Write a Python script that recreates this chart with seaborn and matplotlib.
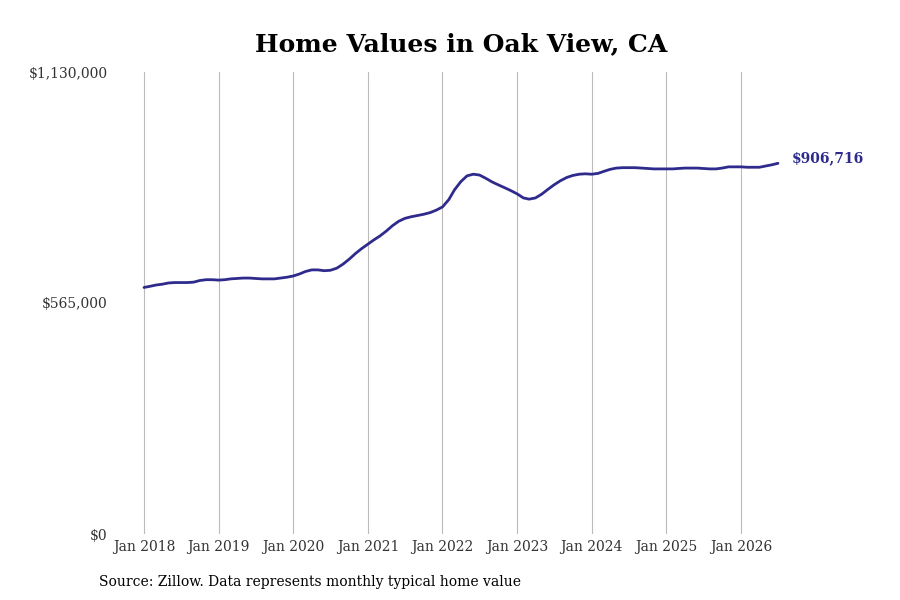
import numpy as np
import pandas as pd
import matplotlib
matplotlib.use("Agg")
import matplotlib.pyplot as plt
import matplotlib.dates as mdates
import matplotlib.ticker as mticker
import seaborn as sns

# ---- data (monthly typical home value, Jan 2018 - Jul 2026) ----
start_month = "2018-01-01"
values_2018 = [603000, 606000, 609000, 611000, 614000, 615000, 615000, 615000, 616000, 620000, 622000, 622000]
values_2019 = [621000, 622000, 624000, 625000, 626000, 626000, 625000, 624000, 624000, 624000, 626000, 628000]
values_2020 = [631000, 636000, 642000, 646000, 646000, 644000, 645000, 650000, 660000, 672000, 686000, 698000]
values_2021 = [709000, 720000, 729000, 741000, 754000, 765000, 772000, 776000, 779000, 782000, 786000, 792000]
values_2022 = [800000, 818000, 842000, 862000, 876000, 880000, 878000, 870000, 861000, 854000, 847000, 840000]
values_2023 = [832000, 822000, 819000, 822000, 831000, 843000, 854000, 864000, 872000, 877000, 880000, 881000]
values_2024 = [880000, 882000, 887000, 892000, 895000, 896000, 896000, 896000, 895000, 894000, 893000, 893000]
values_2025 = [893000, 893000, 894000, 895000, 895000, 895000, 894000, 893000, 893000, 895000, 898000, 898000]
values_2026 = [898000, 897000, 897000, 897000, 900000, 903000, 906716]
tick_years = [2018, 2019, 2020, 2021, 2022, 2023, 2024, 2025, 2026]
y_ticks = [0, 565000, 1130000]
title = "Home Values in Oak View, CA"
source = "Source: Zillow. Data represents monthly typical home value"

values = (values_2018 + values_2019 + values_2020 + values_2021 + values_2022
          + values_2023 + values_2024 + values_2025 + values_2026)
dates = pd.date_range(start_month, periods=len(values), freq="MS")
df = pd.DataFrame({"date": dates, "value": values})

line_color = "#2e2b8c"

sns.set_theme(style="white")
plt.rcParams["font.family"] = ["DejaVu Serif"]

W, H = 900, 600
fig = plt.figure(figsize=(9, 6), dpi=100)
ax_left, ax_right, ax_top, ax_bottom = 112, 800, 72, 534
ax = fig.add_axes([ax_left / W, 1 - ax_bottom / H, (ax_right - ax_left) / W, (ax_bottom - ax_top) / H])

sns.lineplot(data=df, x="date", y="value", ax=ax, color=line_color, linewidth=2)

# x limits so that Jan 2018 -> px 144 and Jan 2026 -> px 741
d0 = mdates.date2num(pd.Timestamp("2018-01-01"))
d1 = mdates.date2num(pd.Timestamp("2026-01-01"))
slope = (741 - 144) / (d1 - d0)
ax.set_xlim(d0 - (144 - ax_left) / slope, d0 + (ax_right - 144) / slope)
ax.set_ylim(0, 1130000)

ax.set_xticks([mdates.date2num(pd.Timestamp(f"{y}-01-01")) for y in tick_years])
ax.set_xticklabels([f"Jan {y}" for y in tick_years])
ax.set_yticks(y_ticks)
ax.yaxis.set_major_formatter(mticker.FuncFormatter(lambda v, p: f"${v:,.0f}"))

ax.grid(axis="x", color="#bbbbbb", linewidth=0.8)
ax.grid(axis="y", visible=False)
for s in ax.spines.values():
    s.set_visible(False)
ax.tick_params(axis="x", length=0, labelsize=10, labelcolor="#333333", pad=4)
ax.tick_params(axis="y", length=0, labelsize=10, labelcolor="#333333", pad=3)
ax.set_xlabel("")
ax.set_ylabel("")

last_date = df["date"].iloc[-1]
last_val = df["value"].iloc[-1]
ax.annotate(f"${last_val:,.0f}", xy=(mdates.date2num(last_date), last_val),
            xytext=(10, 4), textcoords="offset points", ha="left", va="center",
            fontsize=10, fontweight="bold", color=line_color, annotation_clip=False)

fig.text(461 / W, 1 - 44 / H, title, ha="center", va="center", fontsize=18, fontweight="bold", color="black")
fig.text(99 / W, 1 - 582 / H, source, ha="left", va="center", fontsize=10, color="black")

fig.savefig("out.png", dpi=100)
